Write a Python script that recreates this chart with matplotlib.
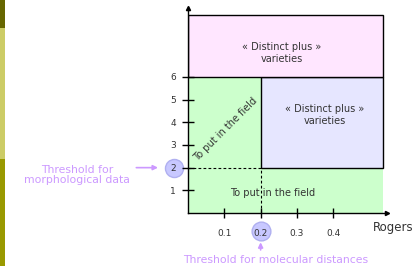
import matplotlib
matplotlib.use("Agg")
import matplotlib.pyplot as plt
from matplotlib.patches import Rectangle

# -- chart values
x_ticks = [0.1, 0.2, 0.3, 0.4]
x_ticklabels = ["0.1", "0.2", "0.3", "0.4"]
y_ticks = [1, 2, 3, 4, 5, 6]
y_ticklabels = ["1", "2", "3", "4", "5", "6"]
x_threshold = 0.2      # molecular distance threshold (Rogers)
y_threshold = 2        # morphological threshold
y_split = 6            # upper limit of the "put in the field" zone
x_max = 0.537
y_top = 8.72

# zone labels
label_distinct = "« Distinct plus »\nvarieties"
label_field = "To put in the field"
label_morpho = "Threshold for\nmorphological data"
label_molec = "Threshold for molecular distances"
x_name = "Rogers"

GREEN = "#ccffcc"
PINK = "#ffe6ff"
LAVENDER = "#e6e6ff"
CIRCLE = "#c8c8ff"
PURPLE = "#cc99ff"
TEXT = "#333333"


def main():
    fig = plt.figure(figsize=(4.16, 2.66), dpi=100)

    # -- decorative side bar of the slide
    for y0, h, c in [(238 / 266, 28 / 266, "#666600"),
                     (107 / 266, 131 / 266, "#cccc66"),
                     (0, 107 / 266, "#999900")]:
        fig.patches.append(Rectangle((0, y0), 5 / 416, h, transform=fig.transFigure,
                                     facecolor=c, edgecolor="none"))

    ax = fig.add_axes([188 / 416, 53 / 266, 199 / 416, 205 / 266])
    ax.set_xlim(0, 0.548)
    ax.set_ylim(0, 9.04)
    ax.patch.set_visible(False)

    #-- zones
    ax.add_patch(Rectangle((0, 0), x_max, y_threshold, facecolor=GREEN, edgecolor="none", zorder=0.5))
    ax.add_patch(Rectangle((0, 0), x_threshold, y_split, facecolor=GREEN, edgecolor="none", zorder=0.5))
    ax.add_patch(Rectangle((x_threshold, y_threshold), x_max - x_threshold, y_split - y_threshold,
                           facecolor=LAVENDER, edgecolor="black", lw=1.0, zorder=0.6))
    ax.add_patch(Rectangle((0, y_split), x_max, y_top - y_split,
                           facecolor=PINK, edgecolor="black", lw=1.0, zorder=0.6))

    # dashed threshold lines
    ax.plot([0, x_threshold], [y_threshold, y_threshold], ls="--", color="black", lw=0.8,
            dashes=(2.5, 2), zorder=1)
    ax.plot([x_threshold, x_threshold], [0, y_threshold], ls="--", color="black", lw=0.8,
            dashes=(2.5, 2), zorder=1)

    #-- texts in zones
    ax.text(0.259, 7.06, label_distinct, ha="center", va="center", fontsize=7, color=TEXT)
    ax.text(0.377, 4.32, label_distinct, ha="center", va="center", fontsize=7, color=TEXT)
    ax.text(0.104, 3.68, label_field, ha="center", va="center", fontsize=7, color=TEXT,
            rotation=45, rotation_mode="anchor")
    ax.text(0.234, 0.88, label_field, ha="center", va="center", fontsize=7, color=TEXT)

    #-- axes, ticks and arrow heads
    for s in ("top", "right"):
        ax.spines[s].set_visible(False)
    ax.spines["left"].set_linewidth(1.0)
    ax.spines["bottom"].set_linewidth(1.0)
    ax.plot([0.548], [0], marker=">", color="black", ms=3, clip_on=False)
    ax.plot([0], [9.04], marker="^", color="black", ms=3, clip_on=False)

    ax.set_xticks(x_ticks)
    ax.set_xticklabels(x_ticklabels)
    ax.set_yticks(y_ticks)
    ax.set_yticklabels(y_ticklabels)
    ax.tick_params(axis="x", direction="inout", length=7, width=1, pad=8,
                   labelsize=6.5, labelcolor=TEXT)
    ax.tick_params(axis="y", direction="inout", length=9, width=1, pad=4,
                   labelsize=6.5, labelcolor=TEXT)

    # highlight circles behind tick labels
    ax.plot([-0.0386], [y_threshold], marker="o", ms=13, color=CIRCLE, mec="#b0b0f0",
            clip_on=False, zorder=0.4)
    ax.plot([x_threshold], [-0.78], marker="o", ms=13.5, color=CIRCLE, mec="#b0b0f0",
            clip_on=False, zorder=0.4)

    ax.text(0.565, -0.66, x_name, ha="center", va="center", fontsize=8.5, color=TEXT)

    #-- threshold annotations
    ax.annotate("", xy=(-0.075, y_threshold), xytext=(-0.15, y_threshold),
                arrowprops=dict(arrowstyle="-|>", color=PURPLE, lw=1.2, mutation_scale=7),
                annotation_clip=False)
    ax.text(-0.306, 1.68, label_morpho, ha="center", va="center", fontsize=7.8,
            color=PURPLE, linespacing=1.0)
    ax.annotate("", xy=(x_threshold, -1.17), xytext=(x_threshold, -1.75),
                arrowprops=dict(arrowstyle="-|>", color=PURPLE, lw=1.2, mutation_scale=7),
                annotation_clip=False)
    ax.text(0.24, -2.07, label_molec, ha="center", va="center", fontsize=7.8, color=PURPLE)

    fig.savefig("out.png", dpi=100)


if __name__ == '__main__':
    main()
